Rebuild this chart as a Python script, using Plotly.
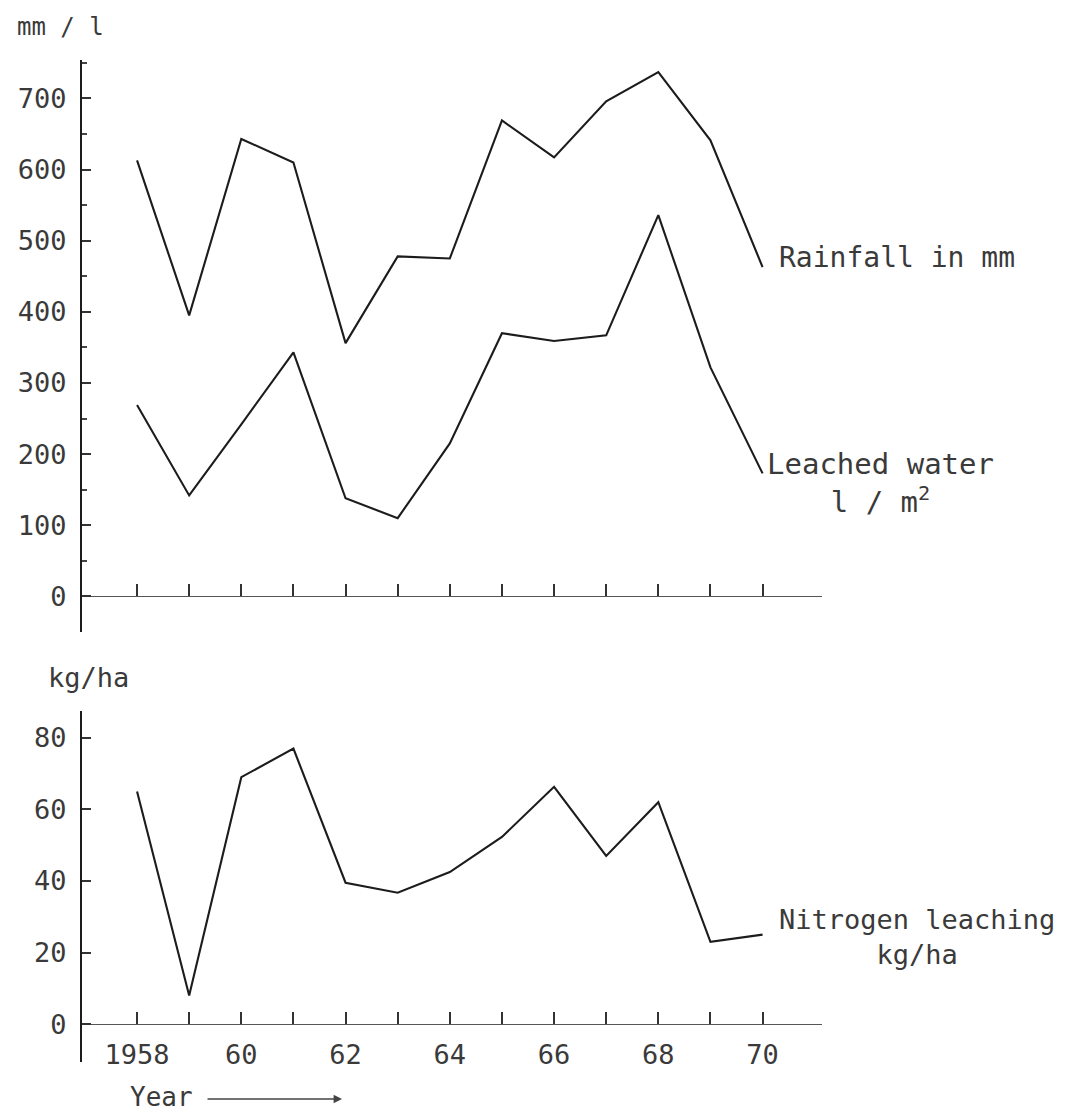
import plotly.graph_objects as go

# Annual series, 1958-1970
years = [1958, 1959, 1960, 1961, 1962, 1963, 1964, 1965, 1966, 1967, 1968, 1969, 1970]
rainfall_mm = [613, 395, 643, 610, 356, 478, 475, 669, 617, 696, 737, 641, 463]
leached_water_l_m2 = [269, 142, 242, 343, 138, 110, 215, 370, 359, 367, 536, 322, 173]
nitrogen_kg_ha = [65, 8, 69, 77, 39.5, 36.7, 42.5, 52.3, 66.3, 47, 62, 23, 25]

year_tick_text = ["1958", "", "60", "", "62", "", "64", "", "66", "", "68", "", "70"]
top_ticks = [0, 100, 200, 300, 400, 500, 600, 700]
bottom_ticks = [0, 20, 40, 60, 80]

FONT = "DejaVu Sans Mono"
INK = "#1c1c1c"
TEXT = "#3a3a3a"

W, H = 1070, 1114
x_dom = [82 / W, 822 / W]
x_rng = [1956.944, 1971.14]
top_dom = [1 - 632 / H, 1 - 60 / H]
top_rng = [-50, 754]
bot_dom = [1 - 1062 / H, 1 - 711 / H]
bot_rng = [-10.6, 87.5]


def zero_position(dom, rng):
    """Paper y-coordinate where value 0 sits inside a y-domain."""
    return dom[0] + (0 - rng[0]) / (rng[1] - rng[0]) * (dom[1] - dom[0])


fig = go.Figure()

line_style = dict(color=INK, width=2.1)
fig.add_trace(go.Scatter(x=years, y=rainfall_mm, mode="lines", line=line_style,
                         xaxis="x", yaxis="y", hoverinfo="x+y", name="Rainfall in mm"))
fig.add_trace(go.Scatter(x=years, y=leached_water_l_m2, mode="lines", line=line_style,
                         xaxis="x", yaxis="y", hoverinfo="x+y", name="Leached water"))
fig.add_trace(go.Scatter(x=years, y=nitrogen_kg_ha, mode="lines", line=line_style,
                         xaxis="x2", yaxis="y2", hoverinfo="x+y", name="Nitrogen leaching"))

tick_font = dict(family=FONT, size=27, color=TEXT)

common_x = dict(
    range=x_rng, domain=x_dom, showgrid=False, zeroline=False,
    showline=True, linecolor="#555", linewidth=1.3,
    tickmode="array", tickvals=years,
    ticks="inside", ticklen=12, tickwidth=1.6, tickcolor="#333",
    anchor="free",
)
common_y = dict(
    showgrid=False, zeroline=False, showline=True, linecolor=INK, linewidth=2,
    ticks="inside", ticklen=9, tickwidth=1.6, tickcolor="#333",
    tickfont=tick_font, ticklabelstandoff=8, tickmode="array",
)

fig.update_layout(
    width=W, height=H,
    margin=dict(l=0, r=0, t=0, b=0),
    paper_bgcolor="white", plot_bgcolor="white",
    showlegend=False,
    font=dict(family=FONT, color=TEXT),
    xaxis=dict(common_x, position=zero_position(top_dom, top_rng),
               showticklabels=False),
    yaxis=dict(common_y, domain=top_dom, range=top_rng, anchor="x",
               tickvals=top_ticks,
               minor=dict(ticks="inside", ticklen=5, tickcolor="#444", dtick=50,
                          tick0=0, showgrid=False)),
    xaxis2=dict(common_x, position=zero_position(bot_dom, bot_rng),
                ticktext=year_tick_text, tickfont=tick_font,
                ticklabelstandoff=6),
    yaxis2=dict(common_y, domain=bot_dom, range=bot_rng, anchor="x2",
                tickvals=bottom_ticks),
)

label_font = dict(family=FONT, size=27, color=TEXT)

annotations = [
    # unit captions above each vertical axis
    dict(text="mm / l", xref="paper", yref="paper", x=61 / W, y=1 - 27 / H,
         showarrow=False, font=dict(family=FONT, size=24, color=TEXT),
         xanchor="center", yanchor="middle"),
    dict(text="kg/ha", xref="paper", yref="paper", x=88 / W, y=1 - 678 / H,
         showarrow=False, font=label_font, xanchor="center", yanchor="middle"),
    # series labels at the end of each line
    dict(text="Rainfall in mm", xref="x", yref="y", x=years[-1], y=rainfall_mm[-1],
         xanchor="left", yanchor="middle", xshift=14, yshift=10,
         showarrow=False, font=dict(family=FONT, size=28, color=TEXT)),
    dict(text="Leached water<br>l / m<sup>2</sup>", xref="x", yref="y",
         x=years[-1], y=leached_water_l_m2[-1], xanchor="left", yanchor="middle",
         align="center", xshift=2, yshift=-10, showarrow=False,
         font=dict(family=FONT, size=29, color=TEXT)),
    dict(text="Nitrogen leaching<br>kg/ha", xref="x2", yref="y2",
         x=years[-1], y=nitrogen_kg_ha[-1], xanchor="left", yanchor="middle",
         align="center", xshift=14, yshift=-2, showarrow=False, font=label_font),
    # "Year" caption with arrow
    dict(text="Year", xref="paper", yref="paper", x=128 / W, y=1 - 1097 / H,
         xanchor="left", yanchor="middle", showarrow=False,
         font=dict(family=FONT, size=26, color=TEXT)),
    dict(text="", xref="paper", yref="paper", x=342 / W, y=1 - 1099 / H,
         ax=-136, ay=0, showarrow=True, arrowhead=2, arrowsize=1.2,
         arrowwidth=1.4, arrowcolor="#444"),
]
fig.update_layout(annotations=annotations)

fig.write_html("out.html")
